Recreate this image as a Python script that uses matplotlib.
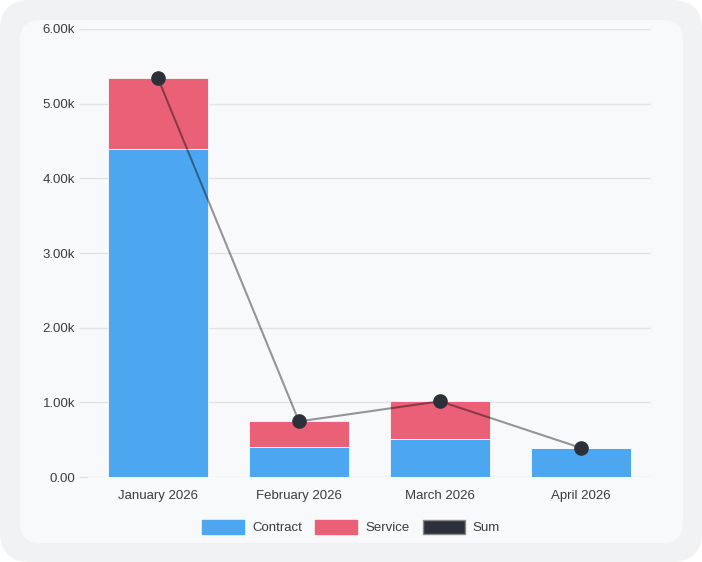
import matplotlib.pyplot as plt
from matplotlib.patches import FancyBboxPatch, Patch
from matplotlib.ticker import FuncFormatter

months = ['January 2026', 'February 2026', 'March 2026', 'April 2026']
contract = [4390, 400, 505, 390]
service = [950, 345, 510, 0]
total = [c + s for c, s in zip(contract, service)]

plt.rcParams['font.family'] = ['Liberation Sans', 'DejaVu Sans']

fig = plt.figure(figsize=(7.02, 5.62), dpi=100)
fig.patch.set_facecolor('white')

# outer frame and inner card (inches), drawn behind the axes
outer = FancyBboxPatch((0.3, 0.3), 7.02 - 0.6, 5.62 - 0.6, boxstyle='round,pad=0.3',
                       transform=fig.dpi_scale_trans, facecolor='#f1f2f4', edgecolor='none', zorder=-2)
card = FancyBboxPatch((0.4, 0.39), 6.63 - 0.4, 5.22 - 0.39, boxstyle='round,pad=0.2',
                      transform=fig.dpi_scale_trans, facecolor='#f8f9fb', edgecolor='none', zorder=-1)
fig.patches.extend([outer, card])

ax = fig.add_axes([0.1246, 0.1512, 0.8034, 0.7972])
ax.set_facecolor('none')

x = range(len(months))
ax.bar(x, contract, width=0.71, color='#4da6f0', edgecolor='#f8f9fb', linewidth=0.6, zorder=2)
ax.bar(x, service, width=0.71, bottom=contract, color='#ea6077', edgecolor='#f8f9fb', linewidth=0.6, zorder=2)
ax.plot(x, total, color=(0, 0, 0, 0.4), linewidth=1.5, marker='o', markersize=9.5,
        markerfacecolor='#2c3038', markeredgecolor='#2c3038', zorder=3)

ax.set_xlim(-0.5, 3.5)
ax.set_ylim(0, 6000)
ax.set_yticks(range(0, 6001, 1000))
ax.yaxis.set_major_formatter(FuncFormatter(lambda v, p: '0.00' if v == 0 else f'{v / 1000:.2f}k'))
ax.set_xticks(list(x))
ax.set_xticklabels(months)

ax.grid(axis='y', color='#e2e3e5', linewidth=1, zorder=0)
for s in ax.spines.values():
    s.set_visible(False)
ax.tick_params(axis='y', length=6, color='#e2e3e5', width=1, pad=3, labelsize=9.5, labelcolor='#3c3c3c')
ax.tick_params(axis='x', length=0, pad=9, labelsize=9.5, labelcolor='#3c3c3c')

handles = [Patch(facecolor='#4da6f0', edgecolor='#4da6f0'),
           Patch(facecolor='#ea6077', edgecolor='#ea6077'),
           Patch(facecolor='#2c3038', edgecolor='#8a8a8a')]
fig.legend(handles, ['Contract', 'Service', 'Sum'], loc='center', bbox_to_anchor=(0.5, 0.062),
           ncol=3, frameon=False, fontsize=9.5, handlelength=3.2, handleheight=1.2,
           handletextpad=0.6, columnspacing=1.0, labelcolor='#3c3c3c')

fig.savefig('out.png', dpi=100, facecolor=fig.get_facecolor())
